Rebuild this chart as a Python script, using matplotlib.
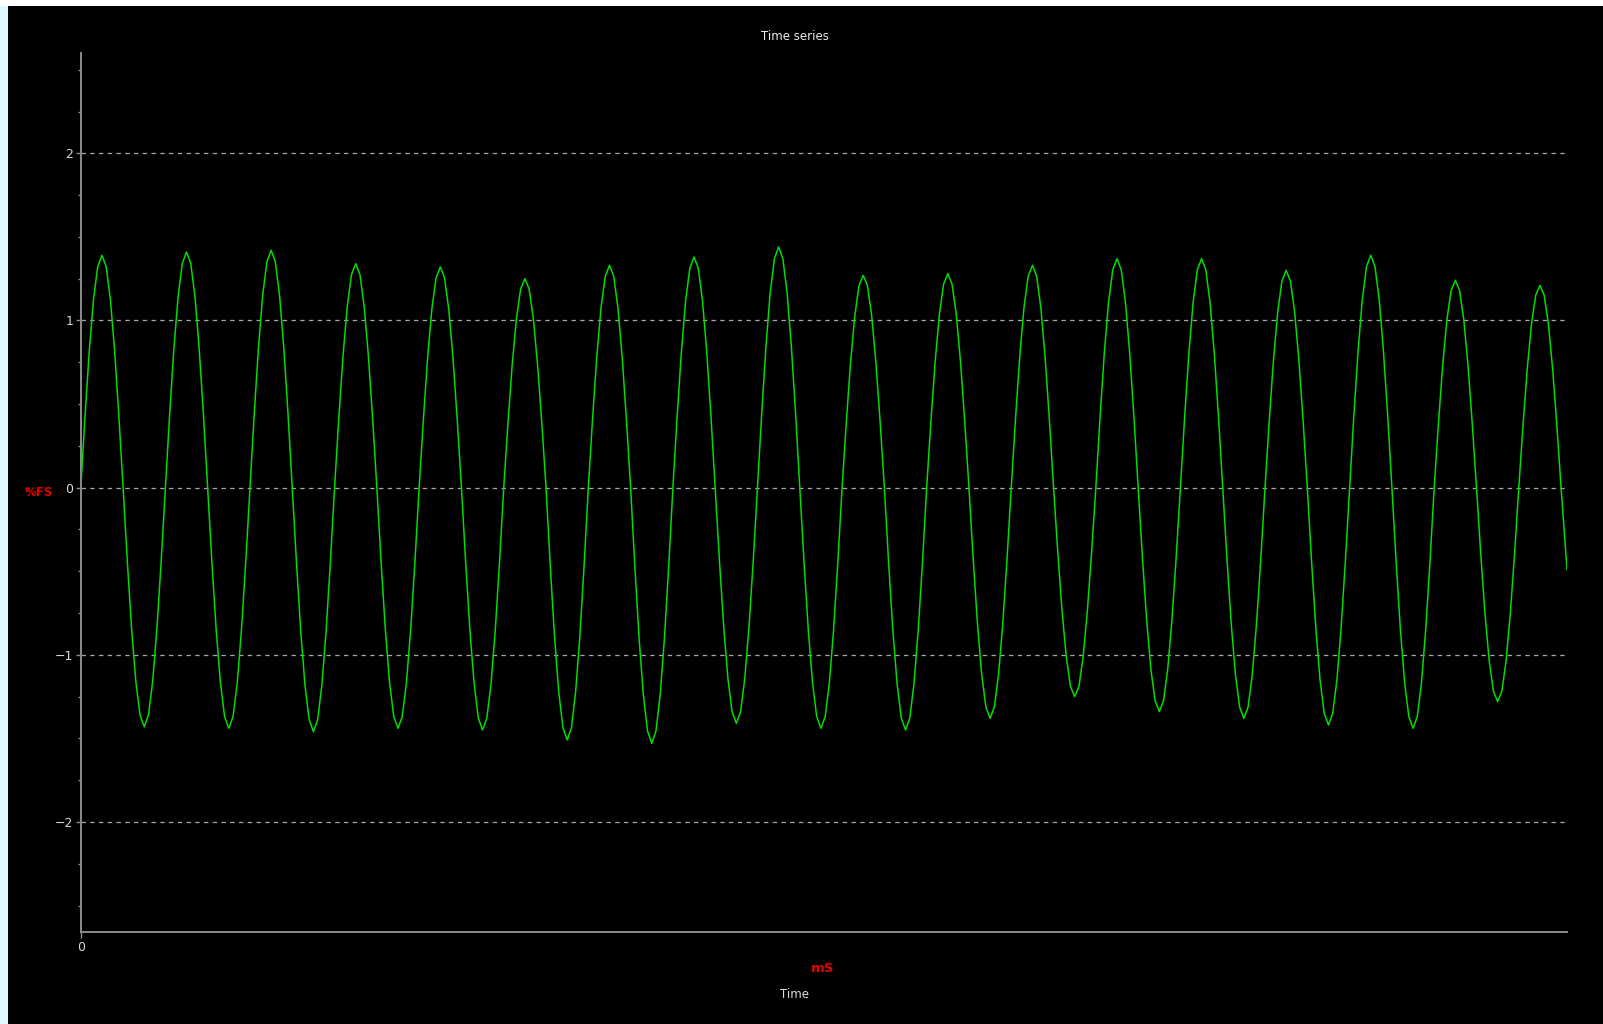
import numpy as np
import matplotlib
matplotlib.use("Agg")
import matplotlib.pyplot as plt
from matplotlib.patches import Rectangle

# Readings: one value per half cycle (%FS)
peaks = [1.39, 1.41, 1.42, 1.34, 1.32, 1.25, 1.33, 1.38, 1.44,
         1.27, 1.28, 1.33, 1.37, 1.37, 1.30, 1.39, 1.24, 1.21]
troughs = [-1.43, -1.44, -1.46, -1.44, -1.45, -1.51, -1.53, -1.41, -1.44,
           -1.45, -1.38, -1.25, -1.34, -1.38, -1.42, -1.44, -1.28, -1.15]
period_ms = 20.0
span_ms = 351.4
sample_ms = 1.0
y_ticks = [-2, -1, 0, 1, 2]

# per half cycle amplitude, peaks and troughs alternating
amps = []
for p, t in zip(peaks, troughs):
    amps += [p, -t]

t = np.arange(0, span_ms + sample_ms, sample_ms)
t[-1] = min(t[-1], span_ms)
half = np.minimum((t // (period_ms / 2)).astype(int), len(amps) - 1)
signal = np.array(amps)[half] * np.sin(2 * np.pi * t / period_ms)

W, H = 1603, 1024
fig = plt.figure(figsize=(W / 100, H / 100), dpi=100, facecolor="black")

# window frame strips
fig.patches.append(Rectangle((0, 1 - 6 / H), 1, 6 / H, transform=fig.transFigure,
                             facecolor="white", edgecolor="none"))
fig.patches.append(Rectangle((0, 0), 8 / W, 1 - 6 / H, transform=fig.transFigure,
                             facecolor="#e0f8ff", edgecolor="none"))

ax = fig.add_axes([80.8 / W, 1 - 932.3 / H, (1567 - 80.8) / W, (932.3 - 53) / H])
ax.set_facecolor("black")

for yv in y_ticks:
    ax.axhline(yv, color="#a8a8a8", lw=0.9, dashes=(3.5, 3.5), zorder=1)

ax.plot(t, signal, color="#00dd00", lw=1.1, zorder=3)

ax.set_xlim(0, span_ms)
ax.set_ylim(-2.66, 2.6)

for s in ["top", "right"]:
    ax.spines[s].set_visible(False)
for s in ["left", "bottom"]:
    ax.spines[s].set_color("#8c8c8c")
    ax.spines[s].set_linewidth(1.4)

ax.set_yticks(y_ticks)
ax.set_yticks(np.arange(-2.5, 2.6, 0.25), minor=True)
ax.set_xticks([0])
ax.tick_params(axis="y", which="major", direction="out", length=3.5, width=1,
               colors="#8c8c8c", labelcolor="#d8d8d8", labelsize=9, pad=2)
ax.tick_params(axis="y", which="minor", direction="out", length=2, width=1,
               colors="#8c8c8c")
ax.tick_params(axis="x", which="major", direction="out", length=4, width=1,
               colors="#8c8c8c", labelcolor="#d8d8d8", labelsize=9, pad=2)

fig.text(795 / W, 1 - 37 / H, "Time series", color="#ececec", fontsize=8.5,
         ha="center", va="center")
fig.text(39 / W, 1 - 492 / H, "%FS", color="#e00000", fontsize=8.5,
         fontweight="bold", ha="center", va="center")
fig.text(823 / W, 1 - 968 / H, "mS", color="#e00000", fontsize=9.5,
         fontweight="bold", ha="center", va="center")
fig.text(795 / W, 1 - 995 / H, "Time", color="#dcdcdc", fontsize=8.5,
         ha="center", va="center")

fig.savefig("out.png", dpi=100, facecolor=fig.get_facecolor())
